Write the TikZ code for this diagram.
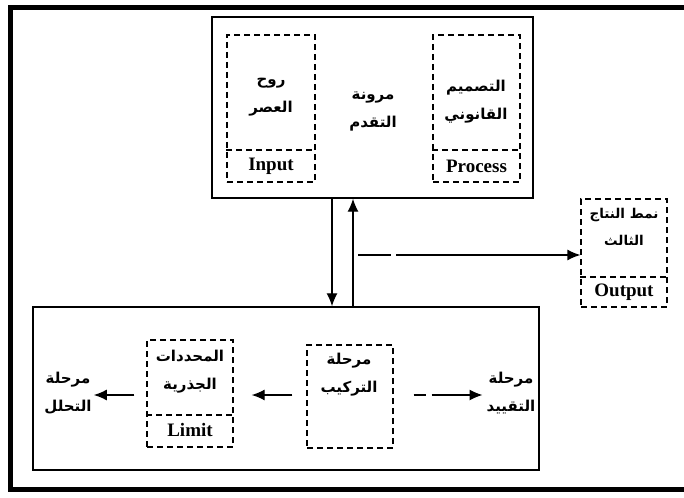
\documentclass[tikz,border=0pt]{standalone}
\usepackage{fontspec}
\setmainfont{Liberation Serif}
\newfontfamily\arabicfont[Script=Arabic]{DejaVu Sans}
\TeXXeTstate=1
\usetikzlibrary{arrows.meta}
\newcommand\arln[1]{{\arabicfont\bfseries\beginR #1\endR}}
\begin{document}
\begin{tikzpicture}[x=1pt,y=-1pt,
  solidbox/.style={draw,line width=1.4pt,rectangle,inner sep=0pt},
  dbox/.style={draw,line width=1.3pt,rectangle,inner sep=0pt,dash pattern=on 6pt off 4pt},
  atext/.style={align=center,font=\fontsize{15}{28}\selectfont,inner sep=0pt},
  ltext/.style={font=\fontsize{19}{22}\selectfont\bfseries,inner sep=0pt},
  solidarrow/.style={line width=1.3pt,-{Latex[length=13pt,width=11pt]}},
  dasharrow/.style={line width=1.3pt,-{Latex[length=13pt,width=11pt]}},
  frameline/.style={line width=5pt}]
\useasboundingbox (0,0) rectangle (684,497);
\fill[white] (0,0) rectangle (684,497);
% outer frame
\draw[frameline] (684,8) -- (10,8) -- (10,489) -- (684,489);
% top box
\node[solidbox,minimum width=321pt,minimum height=181pt] (topbox) at (372.5,107.5) {};
\node[dbox,minimum width=88pt,minimum height=147pt] (inbox) at (271,108.5) {};
\draw[dbox] (inbox.west |- 0,150) -- (inbox.east |- 0,150);
\node[atext] (intext) at (271,97) {\arln{روح}\\\arln{العصر}};
\node[ltext] (inlabel) at (271,166) {Input};
\node[atext] (centertext) at (373,111) {\arln{مرونة}\\\arln{التقدم}};
\node[dbox,minimum width=87pt,minimum height=147pt] (procbox) at (476.5,108.5) {};
\draw[dbox] (procbox.west |- 0,150) -- (procbox.east |- 0,150);
\node[atext] (proctext) at (476,102) {\arln{التصميم}\\\arln{القانوني}};
\node[ltext] (proclabel) at (476.5,166) {Process};
% output box
\node[dbox,minimum width=86pt,minimum height=108pt] (outbox) at (624,253) {};
\draw[dbox] (outbox.west |- 0,277) -- (outbox.east |- 0,277);
\node[atext,font=\fontsize{13.5}{27}\selectfont] (outtext) at (624,227) {\arln{نمط النتاج}\\\arln{الثالث}};
\node[ltext] (outlabel) at (624,292) {Output};
% bottom box
\node[solidbox,minimum width=506pt,minimum height=163pt] (botbox) at (286,388.5) {};
\node[dbox,minimum width=86pt,minimum height=107pt] (limbox) at (190,393.5) {};
\draw[dbox] (limbox.west |- 0,415) -- (limbox.east |- 0,415);
\node[atext] (limtext) at (190,372) {\arln{المحددات}\\\arln{الجذرية}};
\node[ltext] (limlabel) at (190,430) {Limit};
\node[dbox,minimum width=86pt,minimum height=103pt] (tarbox) at (350,396.5) {};
\node[atext] (tartext) at (349,375) {\arln{مرحلة}\\\arln{التركيب}};
\node[atext] (lefttext) at (68,393) {\arln{مرحلة}\\\arln{التحلل}};
\node[atext] (righttext) at (511,393) {\arln{مرحلة}\\\arln{التقييد}};
% connectors
\coordinate (dnx) at (332,0);
\coordinate (upx) at (353,0);
\draw[solidarrow] (topbox.south -| dnx) -- (botbox.north -| dnx);
\draw[solidarrow] (botbox.north -| upx) -- (topbox.south -| upx);
\coordinate (hs) at (358,255);
\draw[dasharrow,dash pattern=on 33pt off 5pt on 400pt off 0pt] (hs) -- (outbox.west |- hs);
\coordinate (ay) at (0,395);
\draw[solidarrow] ([xshift=-14pt]tarbox.west |- ay) -- ([xshift=18pt]limbox.east |- ay);
\draw[solidarrow] ([xshift=-12pt]limbox.west |- ay) -- ([xshift=2pt]lefttext.east |- ay);
\draw[dasharrow,dash pattern=on 12pt off 6pt on 200pt off 0pt] ([xshift=20pt]tarbox.east |- ay) -- ([xshift=-4pt]righttext.west |- ay);
\end{tikzpicture}
\end{document}
